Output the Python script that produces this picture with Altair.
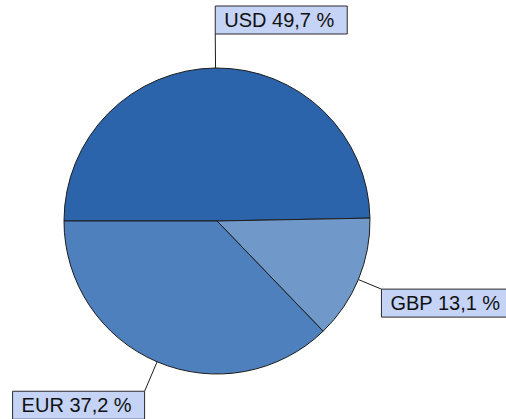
import math
import altair as alt
import pandas as pd

# ---- data ----
currencies = ["USD", "GBP", "EUR"]
shares = [49.7, 13.1, 37.2]
labels = ["USD 49,7 %", "GBP 13,1 %", "EUR 37,2 %"]
colors = ["#2b64ab", "#7099c9", "#4f80be"]

# ---- layout (style constants) ----
W, H = 506, 419
CX, CY, R = 217, 221, 153
START = -math.pi / 2           # first slice starts at 9 o'clock
LEADER = [34, 25, 32]          # leader line lengths (px)
BOX_W, BOX_H = 132, 28
PAD = 9

total = sum(shares)
rows = []
acc = 0.0
for i, (c, s, lab) in enumerate(zip(currencies, shares, labels)):
    a0 = START + 2 * math.pi * acc / total
    acc += s
    a1 = START + 2 * math.pi * acc / total
    mid = (a0 + a1) / 2
    sx, sy = math.sin(mid), -math.cos(mid)
    px, py = CX + R * sx, CY + R * sy
    ex, ey = CX + (R + LEADER[i]) * sx, CY + (R + LEADER[i]) * sy
    right = round(sx, 1) >= 0
    up = -sy > 0.5
    bx0 = ex if right else ex - BOX_W
    by0 = ey - BOX_H if up else ey
    rows.append(dict(cur=c, share=s, label=lab, order=i,
                     px=px, py=py, ex=ex, ey=ey,
                     bx0=bx0, bx1=bx0 + BOX_W, by0=by0, by1=by0 + BOX_H,
                     tx=bx0 + PAD, ty=by0 + BOX_H / 2 + 1))
df = pd.DataFrame(rows)

xs = alt.Scale(domain=[0, W], range=[0, W])
ys = alt.Scale(domain=[0, H], range=[0, H])

pie = alt.Chart(df).mark_arc(outerRadius=R, stroke="#1c1c1c", strokeWidth=1).encode(
    theta=alt.Theta("share:Q", stack=True,
                    scale=alt.Scale(range=[START, START + 2 * math.pi])),
    order=alt.Order("order:Q"),
    color=alt.Color("cur:N", scale=alt.Scale(domain=currencies, range=colors), legend=None),
    x=alt.datum(CX, scale=xs, axis=None),
    y=alt.datum(CY, scale=ys, axis=None),
)

leaders = alt.Chart(df).mark_rule(color="#1c1c1c", strokeWidth=1).encode(
    x=alt.X("px:Q", scale=xs, axis=None), y=alt.Y("py:Q", scale=ys, axis=None),
    x2="ex:Q", y2="ey:Q",
)

boxes = alt.Chart(df).mark_rect(fill="#c4d3f6", stroke="#2a2a2a", strokeWidth=1).encode(
    x=alt.X("bx0:Q", scale=xs, axis=None), x2="bx1:Q",
    y=alt.Y("by0:Q", scale=ys, axis=None), y2="by1:Q",
)

texts = alt.Chart(df).mark_text(align="left", baseline="middle", font="Liberation Sans",
                                fontSize=20, color="#111111").encode(
    x=alt.X("tx:Q", scale=xs, axis=None), y=alt.Y("ty:Q", scale=ys, axis=None),
    text="label:N",
)

chart = alt.layer(pie, leaders, boxes, texts).properties(
    width=W, height=H, padding=0, autosize="none"
).configure_view(stroke=None)

chart.save("out.html", embed_options={"renderer": "svg", "actions": False})
